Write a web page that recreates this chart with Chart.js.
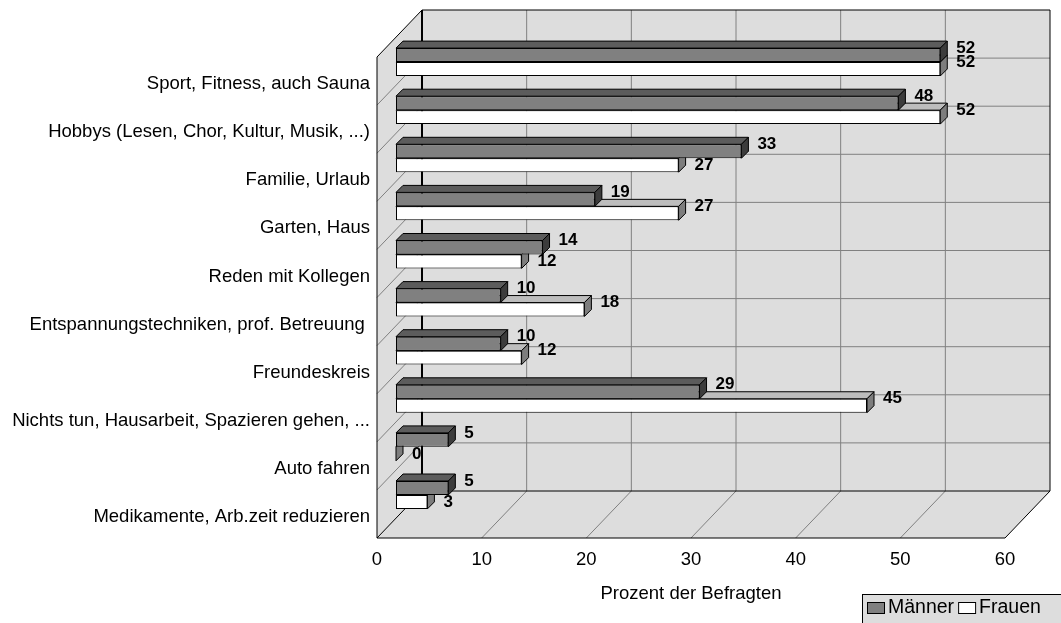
<!DOCTYPE html>
<html>
<head>
<meta charset="utf-8">
<script src="https://cdn.jsdelivr.net/npm/chart.js@4.4.1/dist/chart.umd.min.js"></script>
<style>
  html, body { margin: 0; padding: 0; background: #fff; }
  #wrap { position: relative; width: 1061px; height: 623px; }
</style>
</head>
<body>
<div id="wrap"><canvas id="stressChart"></canvas></div>
<script>
const categories = [
    'Sport, Fitness, auch Sauna',
    'Hobbys (Lesen, Chor, Kultur, Musik, ...)',
    'Familie, Urlaub',
    'Garten, Haus',
    'Reden mit Kollegen',
    'Entspannungstechniken, prof. Betreuung ',
    'Freundeskreis',
    'Nichts tun, Hausarbeit, Spazieren gehen, ...',
    'Auto fahren',
    'Medikamente, Arb.zeit reduzieren'
];
const maenner = [52, 48, 33, 19, 14, 10, 10, 29, 5, 5];
const frauen = [52, 52, 27, 27, 12, 18, 12, 45, 0, 3];
const xTicks = [0, 10, 20, 30, 40, 50, 60];
const seriesNames = ['Männer', 'Frauen'];

const FONT = 'Arial, "Liberation Sans", sans-serif';
const WALL = '#dddddd';
const GRID = '#808080';

// floor/wall depth, bar row position inside it, and bar thickness
const DEPTH_X = 45, DEPTH_Y = -47;
const ROW_X = 19, ROW_Y = -19;
const BAR_D = 7;

const faces = [
    {front: '#808080', top: '#5c5c5c', side: '#3c3c3c'},
    {front: '#ffffff', top: '#bdbdbd', side: '#7d7d7d'}
];

function poly(ctx, pts, fill) {
    ctx.beginPath();
    ctx.moveTo(pts[0][0], pts[0][1]);
    for (let i = 1; i < pts.length; i++) ctx.lineTo(pts[i][0], pts[i][1]);
    ctx.closePath();
    if (fill) {
        ctx.fillStyle = fill;
        ctx.fill();
    }
    ctx.stroke();
}

function line(ctx, x1, y1, x2, y2) {
    ctx.beginPath();
    ctx.moveTo(x1, y1);
    ctx.lineTo(x2, y2);
    ctx.stroke();
}

const box3d = {
    id: 'box3d',
    beforeDatasetsDraw(chart) {
        const {ctx, chartArea: a, scales: {x: xs}} = chart;
        const n = chart.data.labels.length;
        const band = (a.bottom - a.top) / n;
        const dx = DEPTH_X, dy = DEPTH_Y;

        ctx.save();
        // left wall, floor, back wall
        ctx.fillStyle = WALL;
        ctx.beginPath();
        ctx.moveTo(a.left, a.top);
        ctx.lineTo(a.left + dx, a.top + dy);
        ctx.lineTo(a.right + dx, a.top + dy);
        ctx.lineTo(a.right + dx, a.bottom + dy);
        ctx.lineTo(a.right, a.bottom);
        ctx.lineTo(a.left, a.bottom);
        ctx.closePath();
        ctx.fill();

        // value gridlines on back wall and floor
        ctx.strokeStyle = GRID;
        ctx.lineWidth = 1;
        xs.ticks.forEach(t => {
            if (t.value <= xs.min || t.value >= xs.max) return;
            const px = xs.getPixelForValue(t.value);
            line(ctx, px + dx, a.top + dy, px + dx, a.bottom + dy);
            line(ctx, px + dx, a.bottom + dy, px, a.bottom);
        });
        // category gridlines on back wall and left wall
        for (let k = 1; k < n; k++) {
            const yb = a.top + k * band;
            line(ctx, a.left + dx, yb + dy, a.right + dx, yb + dy);
            line(ctx, a.left + dx, yb + dy, a.left, yb);
        }

        // box edges
        ctx.strokeStyle = '#000';
        line(ctx, a.left, a.top, a.left + dx, a.top + dy);
        line(ctx, a.left + dx, a.top + dy, a.right + dx, a.top + dy);
        line(ctx, a.right + dx, a.top + dy, a.right + dx, a.bottom + dy);
        line(ctx, a.left, a.top, a.left, a.bottom);
        line(ctx, a.left, a.bottom, a.right, a.bottom);
        line(ctx, a.right, a.bottom, a.right + dx, a.bottom + dy);
        line(ctx, a.left, a.bottom, a.left + dx, a.bottom + dy);
        line(ctx, a.left + dx, a.bottom + dy, a.right + dx, a.bottom + dy);
        ctx.lineWidth = 2;
        line(ctx, a.left + dx, a.top + dy, a.left + dx, a.bottom + dy);
        ctx.restore();

        // the bar row sits partway into the box; keep this offset until afterDatasetsDraw
        ctx.save();
        ctx.translate(ROW_X, ROW_Y);
        ctx.strokeStyle = '#000';
        ctx.lineWidth = 1;
        [1, 0].forEach(ds => {
            chart.getDatasetMeta(ds).data.forEach(bar => {
                const {x, y, base, height} = bar.getProps(['x', 'y', 'base', 'height'], true);
                const top = y - height / 2, bottom = y + height / 2;
                const d = BAR_D;
                poly(ctx, [[base, top], [x, top], [x + d, top - d], [base + d, top - d]], faces[ds].top);
                poly(ctx, [[x, top], [x + d, top - d], [x + d, bottom - d], [x, bottom]], faces[ds].side);
            });
        });
    },
    afterDatasetsDraw(chart) {
        const ctx = chart.ctx;
        ctx.font = `bold 17px ${FONT}`;
        ctx.fillStyle = '#000';
        ctx.textAlign = 'left';
        ctx.textBaseline = 'middle';
        [0, 1].forEach(ds => {
            const values = chart.data.datasets[ds].data;
            chart.getDatasetMeta(ds).data.forEach((bar, i) => {
                const {x, y, height} = bar.getProps(['x', 'y', 'height'], true);
                let ly = y - height / 2;
                // lower label drops when the bar above it reaches further out
                if (ds === 1 && maenner[i] > frauen[i]) ly += BAR_D;
                ctx.fillText(String(values[i]), x + 16, ly);
            });
        });
        ctx.restore();
    }
};

const boxLegend = {
    id: 'boxLegend',
    afterDraw(chart) {
        const {ctx, width, height} = chart;
        const left = width - 199, top = height - 29;
        const cy = top + 14;
        ctx.save();
        ctx.fillStyle = WALL;
        ctx.fillRect(left, top, width - left, height - top);
        ctx.strokeStyle = '#000';
        ctx.lineWidth = 1;
        ctx.strokeRect(left + 0.5, top + 0.5, width - left + 4, height - top + 4);
        ctx.font = `19.5px ${FONT}`;
        ctx.textBaseline = 'middle';
        ctx.textAlign = 'left';
        let x = left + 5;
        chart.data.datasets.forEach(ds => {
            ctx.fillStyle = ds.backgroundColor;
            ctx.fillRect(x, cy - 6, 18, 12);
            ctx.strokeRect(x + 0.5, cy - 5.5, 17, 11);
            x += 21;
            ctx.fillStyle = '#000';
            ctx.fillText(ds.label, x, cy);
            x += ctx.measureText(ds.label).width + 4;
        });
        ctx.restore();
    }
};

Chart.defaults.font.family = FONT;
Chart.defaults.color = '#000';

new Chart(document.getElementById('stressChart'), {
    type: 'bar',
    data: {
        labels: categories,
        datasets: [
            {
                label: seriesNames[0],
                data: maenner,
                backgroundColor: faces[0].front,
                borderColor: '#000',
                borderWidth: 1,
                borderSkipped: false
            },
            {
                label: seriesNames[1],
                data: frauen,
                backgroundColor: faces[1].front,
                borderColor: '#000',
                borderWidth: 1,
                borderSkipped: false
            }
        ]
    },
    options: {
        indexAxis: 'y',
        responsive: true,
        maintainAspectRatio: false,
        animation: false,
        categoryPercentage: 0.58,
        barPercentage: 1.0,
        layout: {
            padding: {top: 57, right: 56, left: 0, bottom: 0}
        },
        plugins: {
            legend: {display: false},
            tooltip: {enabled: false}
        },
        scales: {
            x: {
                min: xTicks[0],
                max: xTicks[xTicks.length - 1],
                grid: {display: false, drawTicks: false},
                border: {display: false},
                ticks: {
                    stepSize: xTicks[1] - xTicks[0],
                    padding: 11,
                    font: {size: 18.5}
                },
                title: {
                    display: true,
                    text: 'Prozent der Befragten',
                    font: {size: 18.5},
                    padding: {top: 0, bottom: 18}
                },
                afterFit(scale) {
                    scale.height = 85;
                }
            },
            y: {
                grid: {display: false, drawTicks: false},
                border: {display: false},
                ticks: {
                    padding: 7,
                    labelOffset: 3,
                    font: {size: 18.5}
                },
                afterFit(scale) {
                    scale.width = 377;
                }
            }
        }
    },
    plugins: [box3d, boxLegend]
});
</script>
</body>
</html>
